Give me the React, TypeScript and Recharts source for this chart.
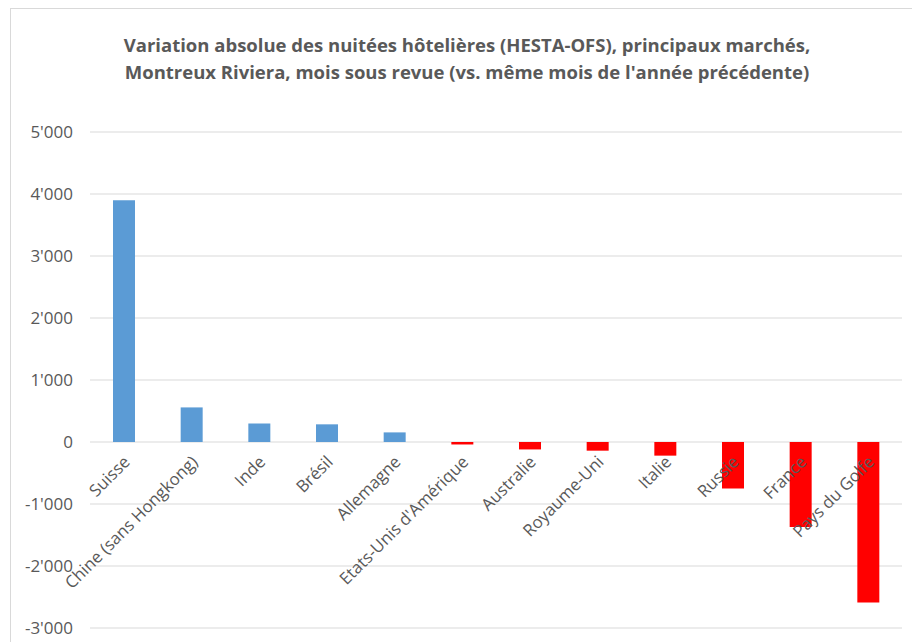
import React from "react";
import { BarChart, Bar, XAxis, YAxis, CartesianGrid, Cell, LabelList } from "recharts";

const categories = [
  "Suisse",
  "Chine (sans Hongkong)",
  "Inde",
  "Brésil",
  "Allemagne",
  "Etats-Unis d'Amérique",
  "Australie",
  "Royaume-Uni",
  "Italie",
  "Russie",
  "France",
  "Pays du Golfe",
];
const values = [3900, 558, 300, 285, 155, -40, -120, -140, -220, -750, -1370, -2590];
const yTicks = [-3000, -2000, -1000, 0, 1000, 2000, 3000, 4000, 5000];
const titleLines = [
  "Variation absolue des nuitées hôtelières (HESTA-OFS), principaux marchés,",
  "Montreux Riviera, mois sous revue (vs. même mois de l'année précédente)",
];

const data = categories.map((name, i) => ({ name, value: values[i] }));

const POS = "#5B9BD5";
const NEG = "#FF0000";
const TEXT = "#595959";
const FONT = "'Open Sans', 'Noto Sans', sans-serif";

const fmt = (v: number) => {
  const s = Math.abs(v).toString().replace(/\B(?=(\d{3})+(?!\d))/g, "'");
  return (v < 0 ? "-" : "") + s;
};

const renderCatLabel = (props: any) => {
  const vb = props.viewBox ?? props;
  const x = Number(vb.x);
  const y = Number(vb.y);
  const w = Number(vb.width);
  const h = Number(vb.height);
  const zero = y + h;
  const ax = x + w / 2 + 7;
  const ay = zero + 21;
  return (
    <text
      x={ax}
      y={ay}
      transform={`rotate(-45 ${ax} ${ay})`}
      textAnchor="end"
      fill={TEXT}
      fontSize={16.8}
      fontFamily={FONT}
    >
      {props.value}
    </text>
  );
};

export default function App() {
  return (
    <div style={{ position: "absolute", left: 0, top: 0, width: 912, height: 642, background: "#fff", overflow: "hidden" }}>
      <div
        style={{
          position: "absolute",
          left: 10,
          top: 8,
          width: 920,
          height: 660,
          border: "1px solid #d9d9d9",
          boxSizing: "border-box",
        }}
      />
      <div
        style={{
          position: "absolute",
          left: 0,
          top: 31,
          width: 934,
          textAlign: "center",
          fontFamily: FONT,
          fontWeight: 700,
          fontSize: 18.5,
          lineHeight: "27px",
          color: TEXT,
        }}
      >
        {titleLines.map((t, i) => (
          <div key={i}>{t}</div>
        ))}
      </div>
      <div style={{ position: "absolute", left: 0, top: 0 }}>
        <BarChart
          width={912}
          height={642}
          data={data}
          margin={{ top: 132, right: 10, bottom: 14, left: 10 }}
        >
          <CartesianGrid vertical={false} stroke="#d9d9d9" strokeWidth={1} />
          <XAxis dataKey="name" hide />
          <YAxis
            width={80}
            domain={[-3000, 5000]}
            ticks={yTicks}
            interval={0}
            axisLine={false}
            tickLine={false}
            tickSize={0}
            tickMargin={17}
            tickFormatter={fmt}
            tick={{ fill: TEXT, fontSize: 17, fontFamily: FONT }}
          />
          <Bar dataKey="value" barSize={22} isAnimationActive={false}>
            {data.map((d, i) => (
              <Cell key={i} fill={d.value >= 0 ? POS : NEG} />
            ))}
            <LabelList dataKey="name" content={renderCatLabel} />
          </Bar>
        </BarChart>
      </div>
    </div>
  );
}
